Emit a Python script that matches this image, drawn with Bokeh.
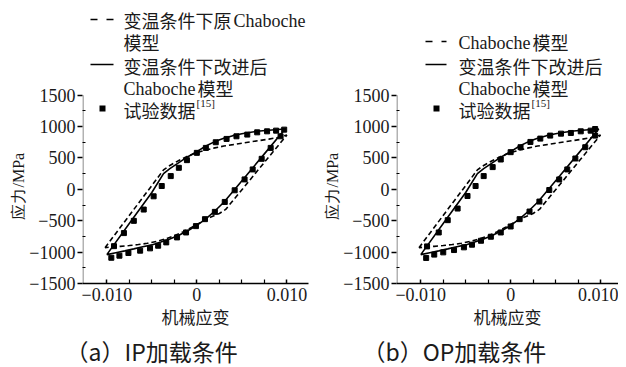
from bokeh.plotting import figure
from bokeh.models import Label, Arrow, FixedTicker, Range1d, BoxAnnotation, Title
from bokeh.layouts import row
from bokeh.embed import file_html
from bokeh.resources import INLINE

# ---------------- data ----------------
# (a) IP experimental data
a_up_strain = [-0.0092, -0.0081, -0.0070, -0.0059, -0.0048, -0.0039, -0.0029, -0.0020, -0.0011, 0.0000,
               0.0010, 0.0021, 0.0033, 0.0044, 0.0056, 0.0067, 0.0078, 0.0088, 0.0097]
a_up_stress = [-905, -697, -502, -322, -111, 53, 211, 343, 465, 581,
               660, 750, 803, 845, 872, 908, 924, 935, 951]
a_lo_strain = [0.0093, 0.0082, 0.0072, 0.0062, 0.0053, 0.0042, 0.0031, 0.0020, 0.0009, -0.0001,
               -0.0012, -0.0022, -0.0034, -0.0043, -0.0052, -0.0063, -0.0076, -0.0086, -0.0095]
a_lo_stress = [845, 660, 486, 317, 158, -15, -201, -359, -475, -586,
               -687, -766, -845, -898, -940, -977, -1014, -1057, -1090]

# (b) OP experimental data
b_up_strain = [-0.0093, -0.0080, -0.0070, -0.0059, -0.0048, -0.0039, -0.0030, -0.0020, -0.0011, 0.0000,
               0.0011, 0.0022, 0.0033, 0.0044, 0.0056, 0.0067, 0.0078, 0.0089, 0.0094]
b_up_stress = [-909, -687, -491, -306, -106, 53, 211, 354, 475, 592,
               671, 755, 808, 856, 887, 898, 924, 935, 961]
b_lo_strain = [0.0094, 0.0083, 0.0072, 0.0063, 0.0054, 0.0043, 0.0032, 0.0021, 0.0010, 0.0000,
               -0.0011, -0.0022, -0.0033, -0.0043, -0.0052, -0.0063, -0.0075, -0.0085, -0.0094]
b_lo_stress = [856, 671, 491, 317, 158, -11, -195, -354, -475, -592,
               -687, -755, -819, -882, -924, -967, -1004, -1040, -1093]

# improved Chaboche model (solid), closed loop
solid_strain = [-0.0100, -0.0070, -0.0050, -0.0037, -0.0030, -0.0020, -0.0010, 0.0000, 0.0010, 0.0020,
                0.0030, 0.0040, 0.0050, 0.0060, 0.0070, 0.0080, 0.0090, 0.0098,
                0.0075, 0.0055, 0.0030, 0.0020, 0.0010, 0.0000, -0.0010, -0.0020, -0.0030, -0.0040,
                -0.0050, -0.0060, -0.0070, -0.0080, -0.0090, -0.0100]
solid_stress = [-1040, -445, -50, 250, 330, 425, 520, 600, 690, 760,
                815, 855, 885, 910, 928, 942, 952, 960,
                565, 222, -205, -345, -470, -575, -660, -730, -790, -840,
                -885, -915, -948, -980, -1010, -1040]

# original Chaboche model (dashed), closed loop
dash_strain = [-0.0102, -0.0070, -0.0050, -0.0037, -0.0030, -0.0020, -0.0010, 0.0000, 0.0010, 0.0020,
               0.0030, 0.0040, 0.0050, 0.0060, 0.0070, 0.0080, 0.0090, 0.0100,
               0.0075, 0.0051, 0.0032, 0.0025, 0.0015, 0.0005, -0.0005, -0.0015, -0.0025, -0.0035,
               -0.0045, -0.0055, -0.0065, -0.0075, -0.0085, -0.0095, -0.0102]
dash_stress = [-930, -320, 60, 310, 380, 460, 530, 585, 625, 660,
               690, 712, 735, 757, 778, 800, 825, 865,
               430, 10, -320, -385, -445, -520, -600, -675, -740, -790,
               -830, -860, -880, -895, -908, -918, -930]

y_ticks = [-1500, -1000, -500, 0, 500, 1000, 1500]
y_minor = [-1250, -750, -250, 250, 750, 1250]
y_labels = ["\u22121500", "\u22121000", "\u2212500", "0", "500", "1000", "1500"]
x_ticks = [-0.010, 0.0, 0.010]
x_minor = [-0.0075, -0.005, -0.0025, 0.0025, 0.005, 0.0075]
x_labels = ["\u22120.010", "0", "0.010"]

SERIF = "Liberation Serif"
CJK = "Noto Sans CJK SC"
TXT = "#1a1a1a"
H = 367
FRAME_BOTTOM = 284          # page y of the x axis
PX_PER_MPA = 189 / 3000     # frame scale
Y_TOP = 1500 + 95 / PX_PER_MPA   # frame extends to the top of the canvas (legend area)


def make_panel(up_x, up_y, lo_x, lo_y, W, border_left, x_end, legend, caption, cap_offset, frame_left_page):
    frame_w = round((x_end + 0.0127) * 9000)
    p = figure(width=W, height=H, output_backend="svg", toolbar_location=None, title=None,
               x_range=Range1d(-0.0127, x_end), y_range=Range1d(-1500, Y_TOP),
               min_border_left=border_left, min_border_right=max(W - border_left - frame_w, 0),
               min_border_top=0, min_border_bottom=H - FRAME_BOTTOM)
    p.outline_line_color = None
    p.grid.visible = False
    p.background_fill_color = "white"
    p.border_fill_color = "white"

    p.line(solid_strain, solid_stress, line_color="black", line_width=1.6)
    p.line(dash_strain, dash_stress, line_color="black", line_width=1.6, line_dash="5 3")
    p.scatter(up_x + lo_x, up_y + lo_y, marker="square", size=5, fill_color="black", line_color="black")

    xa, ya = p.xaxis[0], p.yaxis[0]
    xa.ticker = FixedTicker(ticks=x_ticks, minor_ticks=x_minor)
    xa.major_label_overrides = {t: l for t, l in zip(x_ticks, x_labels)}
    ya.ticker = FixedTicker(ticks=y_ticks, minor_ticks=y_minor)
    ya.major_label_overrides = {t: l for t, l in zip(y_ticks, y_labels)}
    for ax in (xa, ya):
        ax.axis_line_width = 1.5
        ax.major_tick_line_width = 1.5
        ax.minor_tick_line_width = 1.2
        ax.major_label_text_font = SERIF
        ax.major_label_text_font_size = "18px"
        ax.major_label_text_color = TXT
        ax.axis_label_text_font_style = "normal"
        ax.axis_label_text_color = TXT
    xa.major_tick_in, xa.major_tick_out = 4, 0
    xa.minor_tick_in, xa.minor_tick_out = 4, 0
    xa.major_label_standoff = 4
    xa.axis_label = "机械应变"
    xa.axis_label_text_font = CJK
    xa.axis_label_text_font_size = "17px"
    xa.axis_label_standoff = 0
    ya.major_tick_in, ya.major_tick_out = 0, 5
    ya.minor_tick_in, ya.minor_tick_out = 3, 0
    ya.major_label_standoff = 2
    ya.axis_line_color = None
    # y axis line only from -1500 to 1500 (the frame continues upward for the legend)
    p.add_layout(BoxAnnotation(left=-0.0127, right=-0.0127, bottom=-1500, top=1500,
                               fill_alpha=0, line_color="black", line_width=3))

    p.add_layout(Title(text="应力/MPa", align="left", offset=64, standoff=0,
                       text_font=SERIF, text_font_size="16px", text_font_style="normal",
                       text_color=TXT), "left")
    p.add_layout(Title(text=caption, align="left", offset=cap_offset, standoff=0,
                       text_font=CJK, text_font_size="23px", text_font_style="normal",
                       text_color=TXT), "below")

    def sx(px):
        return px - frame_left_page

    def sy(py):
        return FRAME_BOTTOM - py

    def text(px, py, s, font, size):
        p.add_layout(Label(x=sx(px), y=sy(py), x_units="screen", y_units="screen", text=s,
                           text_font=font, text_font_size=size, text_color=TXT,
                           text_align="left", text_baseline="middle"))

    for kind, sym_x0, sym_x1, sym_y, lines, text_x in legend:
        if kind == "dash":
            p.add_layout(Arrow(x_start=sx(sym_x0), y_start=sy(sym_y), x_end=sx(sym_x1), y_end=sy(sym_y),
                               start_units="screen", end_units="screen", end=None,
                               line_color="black", line_width=1.6, line_dash="7 9"))
        elif kind == "solid":
            p.add_layout(Arrow(x_start=sx(sym_x0), y_start=sy(sym_y), x_end=sx(sym_x1), y_end=sy(sym_y),
                               start_units="screen", end_units="screen", end=None,
                               line_color="black", line_width=1.6))
        else:
            cx = (sym_x0 + sym_x1) / 2
            p.add_layout(BoxAnnotation(left=sx(cx - 3), right=sx(cx + 3), bottom=sy(sym_y + 3), top=sy(sym_y - 3),
                                       left_units="screen", right_units="screen",
                                       bottom_units="screen", top_units="screen",
                                       fill_color="black", fill_alpha=1, line_color=None))
        for ly, segments in lines:
            for dx, dy, s, font, size in segments:
                text(text_x + dx, ly + dy, s, font, size)
    return p


# legend rows: (symbol, x0, x1, y, [(row_y, [(dx, dy, text, font, size), ...]), ...], text_x)
legend_a = [
    ("dash", 90, 113, 20, [(20, [(0, 0, "变温条件下原", CJK, "18px"), (110, 1, "Chaboche", SERIF, "18px")]),
                           (42, [(0, 0, "模型", CJK, "18px")])], 123),
    ("solid", 90, 113, 65, [(66, [(0, 0, "变温条件下改进后", CJK, "18px")]),
                            (88, [(0, 1, "Chaboche", SERIF, "18px"), (74, 0, "模型", CJK, "18px")])], 123),
    ("square", 99, 105, 109, [(110, [(0, 0, "试验数据", CJK, "18px"), (73, -7, "[15]", SERIF, "11px")])], 123),
]
legend_b = [
    ("dash", 425, 446, 42, [(42, [(0, 1, "Chaboche", SERIF, "18px"), (74, 0, "模型", CJK, "18px")])], 458),
    ("solid", 425, 446, 65, [(66, [(0, 0, "变温条件下改进后", CJK, "18px")]),
                             (88, [(0, 1, "Chaboche", SERIF, "18px"), (74, 0, "模型", CJK, "18px")])], 458),
    ("square", 433, 439, 109, [(110, [(0, 0, "试验数据", CJK, "18px"), (73, -7, "[15]", SERIF, "11px")])], 458),
]

pa = make_panel(a_up_strain, a_up_stress, a_lo_strain, a_lo_stress, 313, 82, 0.0124, legend_a,
                "（a）IP加载条件", -17, 82)
pb = make_panel(b_up_strain, b_up_stress, b_lo_strain, b_lo_stress, 305, 83, 0.0120, legend_b,
                "（b）OP加载条件", -34, 396)

layout = row(pa, pb)
open("out.html", "w").write(file_html(layout, INLINE))
